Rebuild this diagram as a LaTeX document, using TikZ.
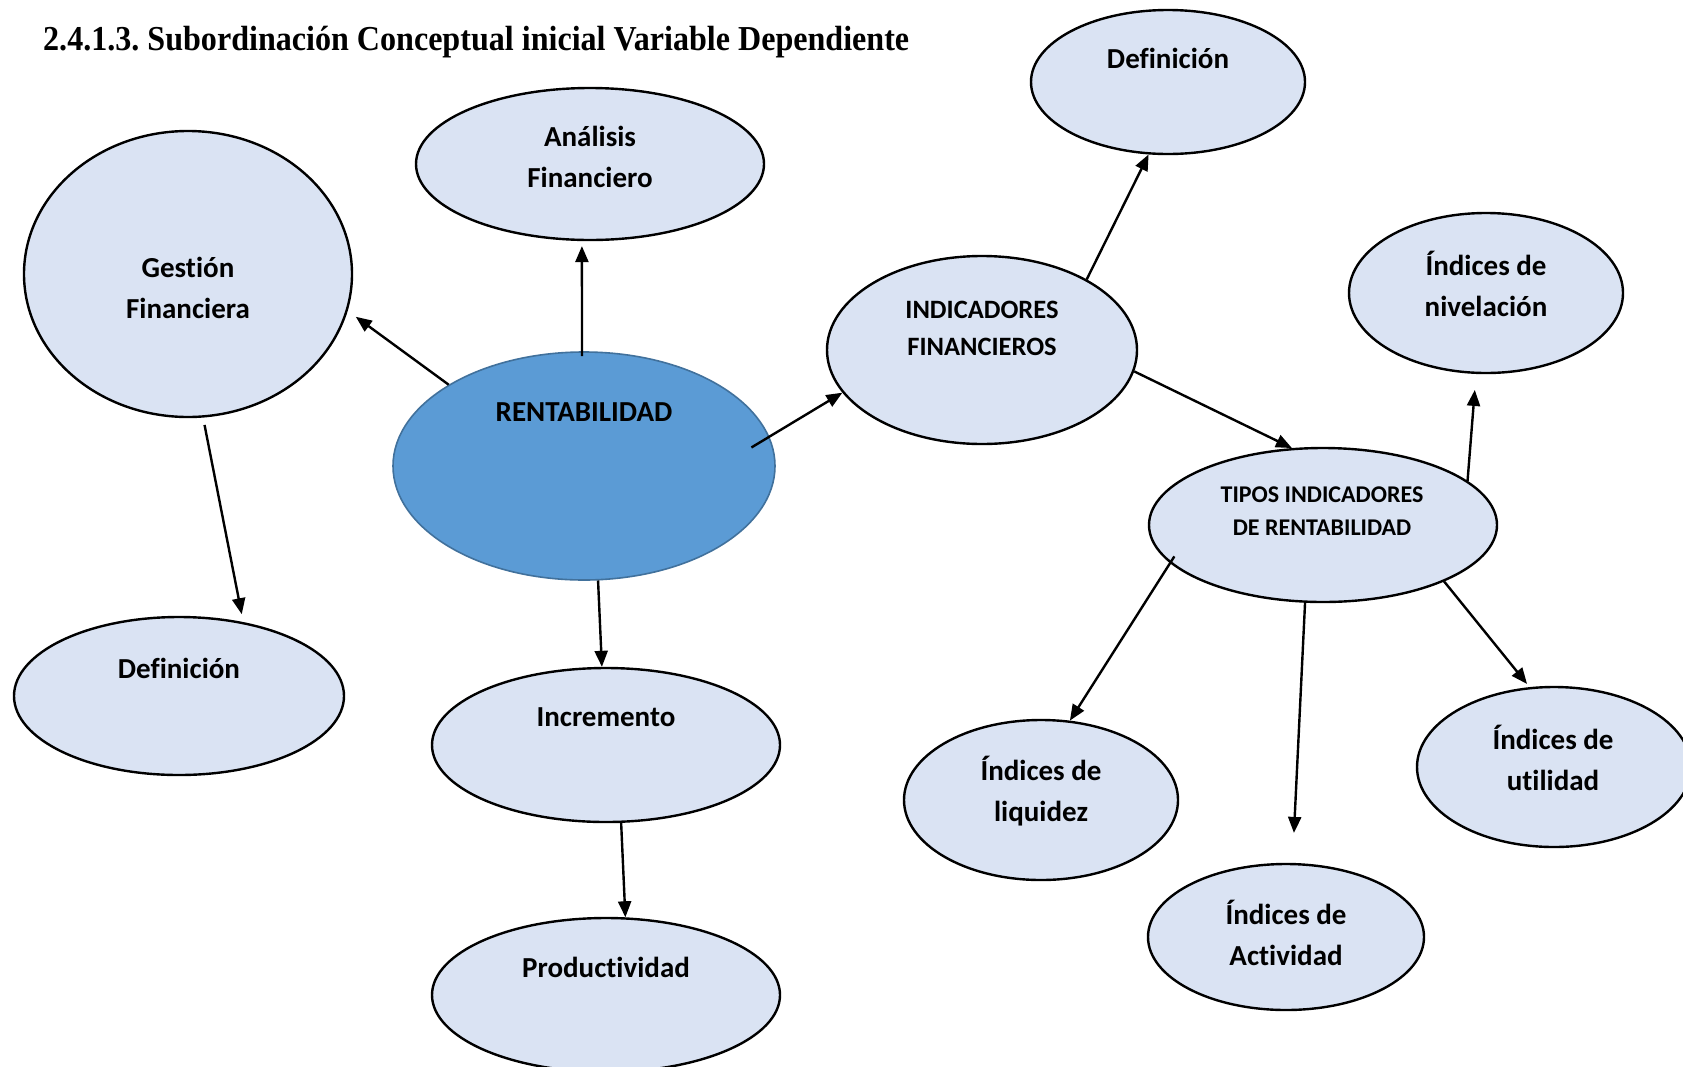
\documentclass[tikz,border=0pt]{standalone}
\usepackage{fontspec}
\usepackage{graphicx}
\setmainfont{Liberation Serif}
\newfontfamily\lab[Ligatures=NoCommon]{Carlito}
\usetikzlibrary{shapes.geometric,arrows.meta}
\definecolor{soft}{RGB}{218,227,243}
\definecolor{core}{RGB}{91,155,213}
\definecolor{coreline}{RGB}{65,113,156}
\frenchspacing
\begin{document}
\begin{tikzpicture}[x=1pt,y=-1pt,
  bubble/.style={ellipse,draw=black,line width=2.4pt,fill=soft,inner sep=0pt},
  lbl/.style={font=\lab\bfseries\fontsize{29}{41}\selectfont,align=center,inner sep=0pt},
  caps/.style={font=\lab\bfseries\fontsize{26.5}{37}\selectfont,align=center,inner sep=0pt},
  smallcaps/.style={font=\lab\bfseries\fontsize{24}{33}\selectfont,align=center,inner sep=0pt},
  link/.style={line width=2.4pt,-{Triangle[length=16pt,width=13pt]}}]
\useasboundingbox (0,0) rectangle (1683,1066);
\clip (0,0) rectangle (1683,1066);
\fill[white] (0,0) rectangle (1683,1066);

% title
\node[anchor=base west,inner sep=0pt] (title) at (43,50)
  {\resizebox{866pt}{\height}{\fontsize{35}{40}\selectfont\bfseries 2.4.1.3. Subordinación Conceptual inicial Variable Dependiente}};

% bubbles
\node[bubble,minimum width=328pt,minimum height=286pt] (gest) at (188,274) {};
\node[bubble,minimum width=348pt,minimum height=152pt] (anal) at (590,164) {};
\node[bubble,minimum width=274pt,minimum height=144pt] (deft) at (1168,82) {};
\node[bubble,minimum width=310pt,minimum height=188pt] (indic) at (982,350) {};
\node[bubble,minimum width=274pt,minimum height=160pt] (nivel) at (1486,293) {};
\node[ellipse,draw=coreline,line width=1.6pt,fill=core,inner sep=0pt,
      minimum width=382pt,minimum height=228pt] (rent) at (584,466) {};
\node[bubble,minimum width=348pt,minimum height=154pt] (tipos) at (1323,525) {};
\node[bubble,minimum width=330pt,minimum height=158pt] (defl) at (179,696) {};
\node[bubble,minimum width=348pt,minimum height=154pt] (incr) at (606,745) {};
\node[bubble,minimum width=348pt,minimum height=154pt] (prod) at (606,995) {};
\node[bubble,minimum width=274pt,minimum height=160pt] (liq) at (1041,800) {};
\node[bubble,minimum width=276pt,minimum height=146pt] (act) at (1286,937) {};
\node[bubble,minimum width=274pt,minimum height=160pt] (util) at (1554,767) {};

% labels
\node[lbl] (tgest) at (188,288) {Gestión\\Financiera};
\node[lbl] (tanal) at (590,157) {Análisis\\Financiero};
\node[lbl] (tdeft) at (1168,58) {Definición};
\node[caps] (tindic) at (982,328) {INDICADORES\\FINANCIEROS};
\node[lbl] (tnivel) at (1486,284) {Índices de\\nivelación};
\node[lbl] (trent) at (584,412) {RENTABILIDAD};
\node[smallcaps] (ttipos) at (1322,511) {TIPOS INDICADORES\\DE RENTABILIDAD};
\node[lbl] (tdefl) at (179,668) {Definición};
\node[lbl] (tincr) at (606,717) {Incremento};
\node[lbl] (tprod) at (606,967) {Productividad};
\node[lbl] (tliq) at (1041,791) {Índices de\\liquidez};
\node[lbl] (tact) at (1286,933) {Índices de\\Actividad};
\node[lbl] (tutil) at (1553,758) {Índices de\\utilidad};

% connectors
\draw[link,shorten >=10pt] (rent.149) -- (gest.-13);
\draw[link,shorten <=-5pt,shorten >=5pt] (rent.91.6) -- (anal.-96.3);
\draw[link,shorten <=-21pt] (rent.9.2) -- (indic.-163.7);
\draw[link] (rent.-83.7) -- (incr.93.7);
\draw[link,shorten <=7.5pt,shorten >=8pt] (gest.-84.6) -- (defl.49.5);
\draw[link] (incr.-79.8) -- (prod.76.5);
\draw[link] (indic.34.4) -- (deft.-105.3);
\draw[link] (indic.-8.7) -- (tipos.112.1);
\draw[link,shorten >=16pt] (tipos.17.8) -- (nivel.-97.7);
\draw[link,shorten <=-8pt] (tipos.-166.4) -- (liq.70.9);
\draw[link,shorten >=30pt] (tipos.-103) -- (act.85.6);
\draw[link,shorten >=4pt] (tipos.-25.6) -- (util.107.4);
\end{tikzpicture}
\end{document}
